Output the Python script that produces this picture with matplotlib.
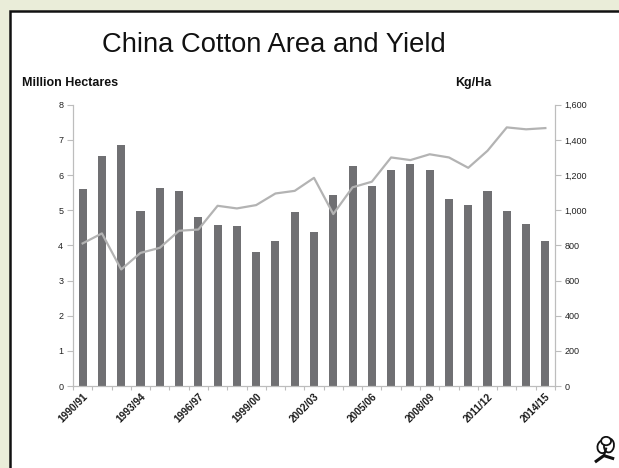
import matplotlib
matplotlib.use("Agg")
import matplotlib.pyplot as plt
from matplotlib.patches import Rectangle, Ellipse
import numpy as np

plt.rcParams['font.family'] = ['Liberation Sans', 'DejaVu Sans']

seasons = ["1990/91", "1991/92", "1992/93", "1993/94", "1994/95", "1995/96",
           "1996/97", "1997/98", "1998/99", "1999/00", "2000/01", "2001/02",
           "2002/03", "2003/04", "2004/05", "2005/06", "2006/07", "2007/08",
           "2008/09", "2009/10", "2010/11", "2011/12", "2012/13", "2013/14",
           "2014/15"]
area_mha = [5.59, 6.55, 6.84, 4.99, 5.64, 5.54, 4.81, 4.58, 4.55, 3.80,
            4.13, 4.96, 4.38, 5.44, 6.26, 5.70, 6.15, 6.31, 6.13, 5.33,
            5.16, 5.54, 4.98, 4.60, 4.11]
yield_kg_ha = [811, 868, 663, 757, 786, 883, 890, 1025, 1010, 1029,
               1095, 1110, 1184, 978, 1130, 1162, 1300, 1285, 1318, 1300,
               1241, 1338, 1471, 1460, 1467]
left_ticks = [0, 1, 2, 3, 4, 5, 6, 7, 8]
right_ticks = [0, 200, 400, 600, 800, 1000, 1200, 1400, 1600]

W, H = 619, 468
fig = plt.figure(figsize=(W / 100, H / 100), dpi=100)
fig.patch.set_facecolor('#eaedd9')

# white panel with dark frame, drawn beneath the axes
panel = Rectangle((10 / W, -0.1), 1.0, 1.1 - 11.5 / H,
                  transform=fig.transFigure, facecolor='white',
                  edgecolor='#111111', linewidth=1.8, zorder=-5)
fig.patches.append(panel)

ax = fig.add_axes([73 / W, 1 - 386 / H, (555 - 73) / W, (386 - 104.7) / H])
ax.set_facecolor('none')
x = np.arange(len(seasons))
ax.bar(x, area_mha, width=0.42, color='#707073', zorder=2)
ax.set_xlim(-0.5, len(seasons) - 0.5)
ax.set_ylim(0, 8)
ax.set_yticks(left_ticks)
ax.set_yticklabels([str(t) for t in left_ticks])

ax2 = ax.twinx()
ax2.plot(x, yield_kg_ha, color='#b3b3b3', linewidth=1.6, zorder=3)
ax2.set_ylim(0, 1600)
ax2.set_yticks(right_ticks)
ax2.set_yticklabels([f"{t:,}" for t in right_ticks])

for a in (ax, ax2):
    a.spines['top'].set_visible(False)
    a.spines['left'].set_color('#bdbdbd')
    a.spines['right'].set_color('#bdbdbd')
    a.spines['bottom'].set_color('#bdbdbd')
    a.tick_params(axis='y', colors='#bdbdbd', labelcolor='#222222',
                  labelsize=6.5, length=4, width=0.8, pad=3)

# category labels every third season, ticks at category boundaries
ax.set_xticks(x[::3])
ax.set_xticklabels(seasons[::3], rotation=45, ha='right', va='top',
                   rotation_mode='anchor', fontsize=7.3, fontweight='bold',
                   color='#1a1a1a')
ax.tick_params(axis='x', length=0, pad=4)
ax.set_xticks(np.arange(-0.5, len(seasons)), minor=True)
ax.tick_params(axis='x', which='minor', length=3, width=0.8,
               color='#bdbdbd')

fig.text(273.5 / W, 1 - 45 / H, "China Cotton Area and Yield", ha='center',
         va='center', fontsize=19.7, color='#111111')
fig.text(22 / W, 1 - 83 / H, "Million Hectares", ha='left', va='center',
         fontsize=9, fontweight='bold', color='#111111')
fig.text(491 / W, 1 - 83 / H, "Kg/Ha", ha='right', va='center',
         fontsize=9, fontweight='bold', color='#111111')

# small cotton boll emblem in the corner
emb = fig.add_axes([594 / W, 4 / H, 22 / W, 28 / H])
emb.set_xlim(0, 1)
emb.set_ylim(0, 1)
emb.axis('off')
for cx, cy, w, h, ang in [(0.4, 0.62, 0.5, 0.45, 30), (0.68, 0.66, 0.45, 0.5, -20),
                          (0.55, 0.82, 0.45, 0.3, 0)]:
    emb.add_patch(Ellipse((cx, cy), w, h, angle=ang, facecolor='white',
                          edgecolor='#111111', linewidth=1.3))
emb.plot([0.1, 0.45, 0.85], [0.1, 0.3, 0.2], color='#111111', lw=2.2)
emb.plot([0.45, 0.55], [0.3, 0.55], color='#111111', lw=1.5)

fig.savefig("out.png", dpi=100, facecolor=fig.get_facecolor())
